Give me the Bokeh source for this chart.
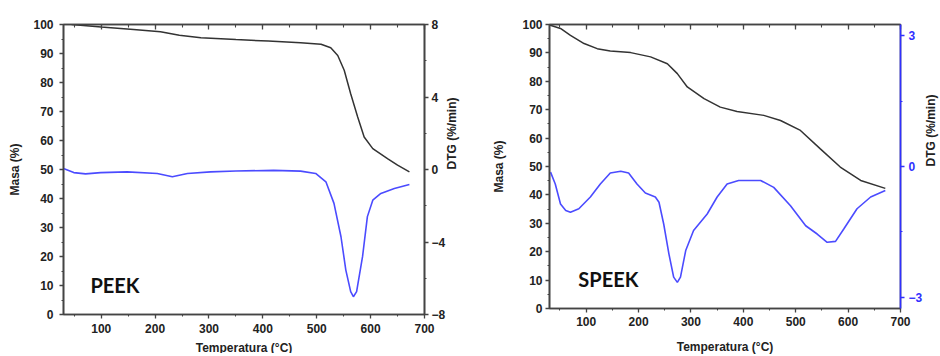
import math
from bokeh.plotting import figure
from bokeh.layouts import row
from bokeh.models import Range1d, LinearAxis, SingleIntervalTicker, FixedTicker, CustomJSTickFormatter
from bokeh.core.properties import value
from bokeh.embed import file_html
from bokeh.resources import INLINE

# ---------------- data ----------------
peek_mass_T = [45, 100, 160, 210, 245, 285, 350, 410, 470, 508, 526, 539, 551, 563, 576, 588, 604, 632, 650, 672]
peek_mass = [100, 99.1, 98.3, 97.5, 96.3, 95.4, 94.8, 94.3, 93.7, 93.2, 92.0, 89.3, 84.2, 76.1, 68.1, 61.2, 57.2, 53.7, 51.5, 49.2]

peek_dtg_T = [30, 49, 71, 99, 148, 204, 232, 260, 303, 350, 420, 470, 498, 517, 532, 545, 554, 563, 568, 574,
              585, 594, 604, 619, 644, 672]
peek_dtg = [0.05, -0.17, -0.24, -0.17, -0.13, -0.22, -0.40, -0.22, -0.13, -0.08, -0.05, -0.09, -0.22, -0.68, -1.87,
            -3.71, -5.55, -6.74, -7.02, -6.74, -4.81, -2.60, -1.69, -1.32, -1.05, -0.83]

speek_mass_T = [30, 51, 70, 96, 121, 146, 185, 223, 255, 274, 293, 325, 356, 388, 439, 471, 509, 547, 585, 624, 671]
speek_mass = [99.8, 98.6, 96.2, 93.3, 91.5, 90.7, 90.1, 88.6, 86.2, 82.7, 78.0, 73.9, 70.9, 69.4, 68.0, 66.2, 62.7,
              56.2, 49.8, 45.1, 42.3]

speek_dtg_T = [32, 41, 51, 61, 70, 86, 108, 127, 146, 166, 181, 197, 213, 232, 239, 248, 258, 267, 274, 280, 290,
               305, 331, 350, 369, 391, 433, 458, 490, 519, 541, 560, 576, 592, 617, 643, 671]
speek_dtg = [-0.13, -0.40, -0.86, -1.01, -1.05, -0.97, -0.70, -0.40, -0.15, -0.11, -0.15, -0.40, -0.61, -0.70,
             -0.82, -1.32, -2.01, -2.54, -2.66, -2.54, -1.93, -1.47, -1.09, -0.70, -0.40, -0.32, -0.32, -0.48,
             -0.90, -1.36, -1.55, -1.74, -1.72, -1.43, -0.97, -0.70, -0.55]

x_title = "Temperatura (°C)"
y_title = "Masa (%)"
y2_title = "DTG (%/min)"
peek_dtg_ticks = [-8, -4, 0, 4, 8]
peek_dtg_minor = [-6, -2, 2, 6]
speek_dtg_ticks = [-3, 0, 3]
speek_dtg_minor = [-1.5, 1.5]

FONT = "Liberation Sans"
AX = "#444444"
TXT = "#222222"
BLACK_LINE = "#333333"
BLUE_LINE = "#4b4bff"
BLUE_AX = "#3030ff"


def style_axis(ax, color=AX, label_color=TXT):
    ax.axis_line_color = color
    ax.axis_line_width = 1.6
    ax.major_tick_line_color = color
    ax.minor_tick_line_color = color
    ax.major_tick_line_width = 1.3
    ax.minor_tick_line_width = 1.1
    ax.major_tick_out = 4
    ax.major_tick_in = 0
    ax.minor_tick_out = 2
    ax.minor_tick_in = 0
    ax.major_label_text_font = FONT
    ax.major_label_text_font_style = "bold"
    ax.major_label_text_font_size = "12px"
    ax.major_label_text_color = label_color
    ax.axis_label_text_font = FONT
    ax.axis_label_text_font_style = "bold"
    ax.axis_label_text_font_size = "12px"
    ax.axis_label_text_color = TXT


def make_panel(name, mT, m, dT, d, dlo, dhi, dticks, dminor, dcolor, dlabel_color,
               frame, borders, xtick_so, xlab_so, ytick_so, ylab_so, y2tick_so, y2lab_so, text_x, text_y):
    fw, fh = frame
    bl, br, bt, bb = borders
    p = figure(frame_width=fw, frame_height=fh, output_backend="svg", toolbar_location=None,
               x_range=Range1d(30, 700), y_range=Range1d(0, 100),
               min_border_left=bl, min_border_right=br, min_border_top=bt, min_border_bottom=bb)
    p.xgrid.visible = False
    p.ygrid.visible = False
    p.outline_line_color = AX
    p.outline_line_width = 1.6
    p.background_fill_color = "white"
    p.border_fill_color = "white"

    p.extra_y_ranges = {"dtg": Range1d(dlo, dhi)}

    p.line(mT, m, line_color=BLACK_LINE, line_width=1.5)
    p.line(dT, d, line_color=BLUE_LINE, line_width=1.6, y_range_name="dtg")

    xa = p.xaxis[0]
    xa.ticker = SingleIntervalTicker(interval=100, num_minor_ticks=2)
    style_axis(xa)
    xa.axis_label = x_title
    xa.major_label_standoff = xtick_so
    xa.axis_label_standoff = xlab_so

    ya = p.yaxis[0]
    ya.ticker = SingleIntervalTicker(interval=10, num_minor_ticks=2)
    style_axis(ya)
    ya.axis_label = y_title
    ya.major_label_standoff = ytick_so
    ya.axis_label_standoff = ylab_so

    top = LinearAxis(ticker=SingleIntervalTicker(interval=100, num_minor_ticks=2),
                     formatter=CustomJSTickFormatter(code="return ''"))
    style_axis(top)
    top.major_tick_in = 5
    top.major_tick_out = 0
    top.minor_tick_in = 3
    top.minor_tick_out = 0
    top.major_label_standoff = 0
    top.major_label_text_font_size = "1px"
    p.add_layout(top, "above")

    ra = LinearAxis(y_range_name="dtg", ticker=FixedTicker(ticks=dticks, minor_ticks=dminor))
    style_axis(ra, color=dcolor, label_color=dlabel_color)
    ra.axis_label = y2_title
    ra.major_label_standoff = y2tick_so
    ra.axis_label_standoff = y2lab_so
    if "axis_label_orientation" in ra.properties():
        ra.axis_label_orientation = math.pi / 2
    p.add_layout(ra, "right")

    p.text(x=[text_x], y=[text_y], text=[name], text_font=value("Lato"), text_font_style="bold",
           text_font_size="20px", text_color="#111111", text_baseline="alphabetic", text_align="left")
    return p


p1 = make_panel("PEEK", peek_mass_T, peek_mass, peek_dtg_T, peek_dtg, -8, 8,
                peek_dtg_ticks, peek_dtg_minor, AX, TXT,
                (361, 290), (63, 46, 20, 0), 5, 5, 6, 8, 3, 4, 80, 10.3)
p2 = make_panel("SPEEK", speek_mass_T, speek_mass, speek_dtg_T, speek_dtg, -3.26, 3.26,
                speek_dtg_ticks, speek_dtg_minor, BLUE_AX, BLUE_AX,
                (351, 284), (79, 0, 24, 0), 4, 11, 3, 13, 4, 6, 85, 10.5)

layout = row(p1, p2)
open("out.html", "w").write(file_html(layout, INLINE))
